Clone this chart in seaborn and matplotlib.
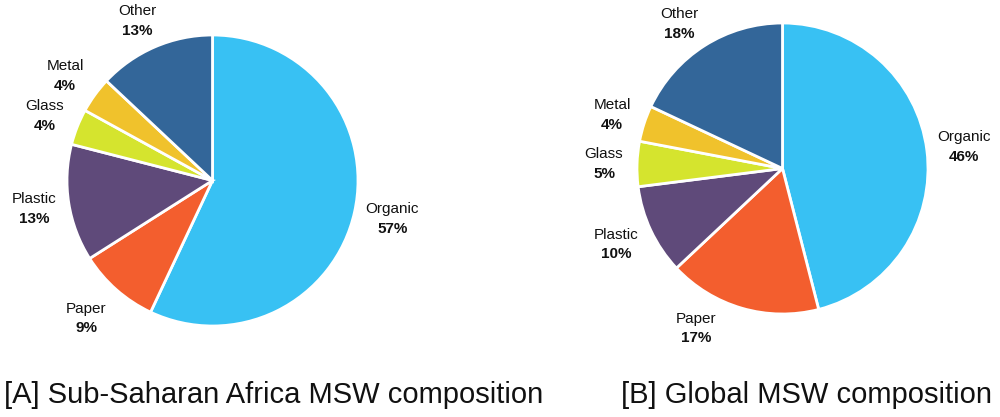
import matplotlib
matplotlib.use("Agg")
import matplotlib.pyplot as plt
import seaborn as sns

categories = ["Organic", "Paper", "Plastic", "Glass", "Metal", "Other"]
ssa_values = [57, 9, 13, 4, 4, 13]
global_values = [46, 17, 10, 5, 4, 18]
colors = ["#38C1F3", "#F35E2E", "#5F4A7A", "#D5E42E", "#F0C22C", "#336699"]
captions = ["[A] Sub-Saharan Africa MSW composition", "[B] Global MSW composition"]

sns.set_theme(style="white")
plt.rcParams["font.family"] = ["Liberation Sans", "DejaVu Sans"]

W, H = 1000, 417
fig = plt.figure(figsize=(10, 4.17), dpi=100)
ax = fig.add_axes([0, 0, 1, 1])

def py(y):
    return H - y

pies = [
    dict(values=ssa_values, center=(212.5, 180.5), radius=145.5,
         labels={"Organic": (392.5, 209), "Paper": (86, 309), "Plastic": (34, 199),
                 "Glass": (45, 106), "Metal": (65, 66), "Other": (137, 11)},
         caption=(4, 395)),
    dict(values=global_values, center=(782.5, 168.5), radius=145.5,
         labels={"Organic": (964, 137), "Paper": (696, 319), "Plastic": (616, 235),
                 "Glass": (604, 154), "Metal": (612, 105), "Other": (679, 14)},
         caption=(621, 395)),
]

for i, p in enumerate(pies):
    cx, cy = p["center"]
    ax.pie(p["values"], colors=colors, startangle=90, counterclock=False,
           center=(cx, py(cy)), radius=p["radius"],
           wedgeprops=dict(edgecolor="white", linewidth=2), frame=True)
    for cat, val in zip(categories, p["values"]):
        lx, ly = p["labels"][cat]
        ax.text(lx, py(ly), cat, ha="center", va="center", fontsize=11, color="#111111")
        ax.text(lx, py(ly + 19.5), f"{val}%", ha="center", va="center", fontsize=11,
                fontweight="bold", color="#111111")
    capx, capy = p["caption"]
    ax.text(capx, py(capy), captions[i], ha="left", va="center", fontsize=21, color="#111111")

ax.set_xlim(0, W)
ax.set_ylim(0, H)
ax.set_aspect("auto")
ax.axis("off")
fig.savefig("out.png", dpi=100)
